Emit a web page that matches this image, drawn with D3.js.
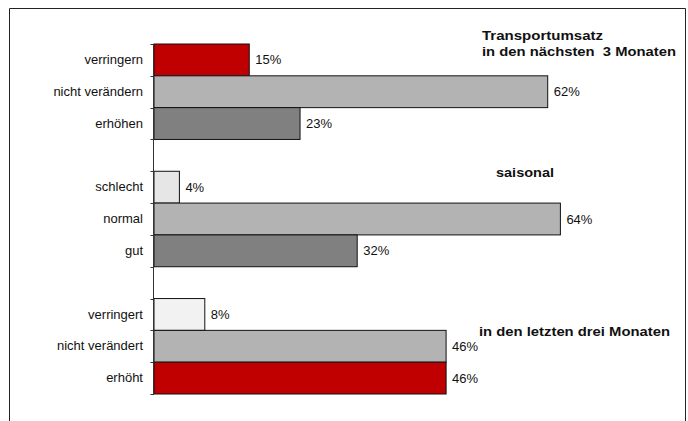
<!DOCTYPE html>
<html>
<head>
<meta charset="utf-8">
<script src="https://cdn.jsdelivr.net/npm/d3@7"></script>
<style>
  html, body { margin: 0; padding: 0; background: #fff; }
  svg { display: block; }
  text { font-family: Arial, "Liberation Sans", sans-serif; fill: #111; }
</style>
</head>
<body>
<svg id="chart" width="688" height="421"></svg>
<script>
// Survey results in percent, three question blocks
const labelsNext3 = ["verringern", "nicht verändern", "erhöhen"];
const valuesNext3 = [15, 62, 23];
const labelsSeason = ["schlecht", "normal", "gut"];
const valuesSeason = [4, 64, 32];
const labelsLast3 = ["verringert", "nicht verändert", "erhöht"];
const valuesLast3 = [8, 46, 46];
const groupTitles = [
  ["Transportumsatz", "in den nächsten  3 Monaten"],
  ["saisonal"],
  ["in den letzten drei Monaten"]
];

// Fill colours per block
const fillsNext3 = ["#c00000", "#b3b3b3", "#808080"];
const fillsSeason = ["#e6e6e6", "#b3b3b3", "#808080"];
const fillsLast3 = ["#f2f2f2", "#b3b3b3", "#c00000"];

const blocks = [
  { labels: labelsNext3, values: valuesNext3, fills: fillsNext3 },
  { labels: labelsSeason, values: valuesSeason, fills: fillsSeason },
  { labels: labelsLast3, values: valuesLast3, fills: fillsLast3 }
];

// Flatten into rows, with one empty slot between blocks
const rows = [];
const slots = [];
blocks.forEach((b, bi) => {
  b.labels.forEach((lab, i) => {
    const key = bi + "-" + i;
    rows.push({ key, label: lab, value: b.values[i], fill: b.fills[i] });
    slots.push(key);
  });
  if (bi < blocks.length - 1) slots.push("gap" + bi);
});
const labelOf = new Map(rows.map(r => [r.key, r.label]));

const svg = d3.select("#chart");

// Outer frame (open at the bottom)
svg.append("path")
  .attr("d", "M9.5,421 V8.5 H685.5 V421")
  .attr("fill", "none")
  .attr("stroke", "#222")
  .attr("stroke-width", 1);

const x = d3.scaleLinear().domain([0, 100]).range([154, 789]);
const y = d3.scaleBand().domain(slots).range([44, 394]).padding(0);

// Bars
svg.append("g").selectAll("rect")
  .data(rows)
  .join("rect")
  .attr("x", x(0))
  .attr("y", d => y(d.key))
  .attr("width", d => x(d.value) - x(0))
  .attr("height", y.bandwidth())
  .attr("fill", d => d.fill)
  .attr("stroke", "#111")
  .attr("stroke-width", 1);

// Value labels
svg.append("g").selectAll("text")
  .data(rows)
  .join("text")
  .attr("x", d => x(d.value) + 6)
  .attr("y", d => y(d.key) + y.bandwidth() / 2 + 4.5)
  .attr("font-size", 13)
  .text(d => d.value + "%");

// Category axis: labels at band centres
const axis = svg.append("g")
  .attr("transform", `translate(${x(0)},0)`)
  .call(d3.axisLeft(y)
    .tickSize(0)
    .tickPadding(11)
    .tickFormat(k => labelOf.get(k) || ""));
axis.select(".domain").remove();
axis.selectAll("text")
  .attr("font-size", 13)
  .attr("font-family", "Arial, 'Liberation Sans', sans-serif")
  .attr("fill", "#111");

// Axis line with tick marks on band boundaries
const boundaries = slots.map(k => y(k)).concat([y.range()[1]]);
const g = svg.append("g").attr("stroke", "#333").attr("stroke-width", 1);
g.append("line")
  .attr("x1", x(0) - 0.5).attr("x2", x(0) - 0.5)
  .attr("y1", boundaries[0]).attr("y2", boundaries[boundaries.length - 1]);
g.selectAll("line.tick")
  .data(boundaries)
  .join("line")
  .attr("class", "tick")
  .attr("x1", x(0) - 3.5).attr("x2", x(0))
  .attr("y1", d => Math.round(d) + 0.5).attr("y2", d => Math.round(d) + 0.5);

// Block titles
const titlePos = [
  { x: 482, y: 40, w: [121, 194] },
  { x: 496, y: 177, w: [58] },
  { x: 479, y: 335.5, w: [191] }
];
groupTitles.forEach((lines, i) => {
  const t = svg.append("text")
    .attr("font-size", 13)
    .attr("font-weight", "bold");
  lines.forEach((ln, j) => {
    t.append("tspan")
      .attr("x", titlePos[i].x)
      .attr("y", titlePos[i].y + j * 16)
      .attr("textLength", titlePos[i].w[j])
      .attr("lengthAdjust", "spacingAndGlyphs")
      .style("white-space", "pre")
      .text(ln);
  });
});
</script>
</body>
</html>
